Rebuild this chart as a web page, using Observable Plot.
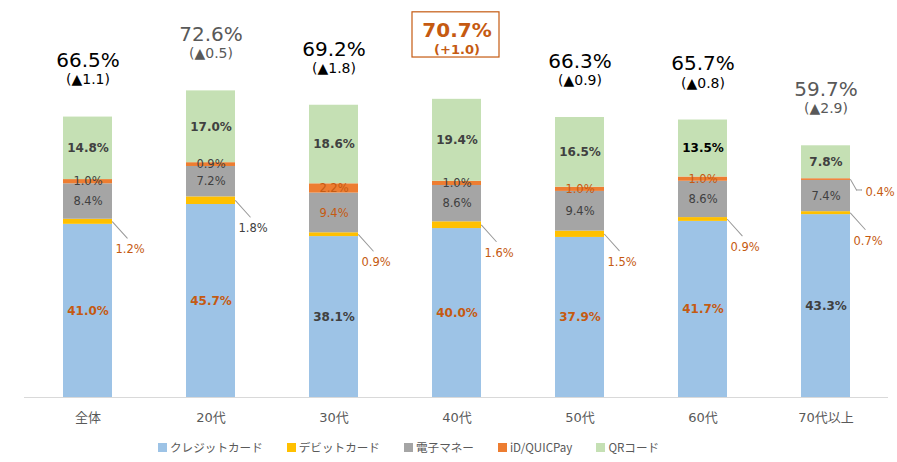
<!DOCTYPE html>
<html><head><meta charset="utf-8">
<script src="https://cdn.jsdelivr.net/npm/d3@7"></script>
<script src="https://cdn.jsdelivr.net/npm/@observablehq/plot@0.6"></script>
<style>
body{margin:0;background:#fff;}
#legend{position:relative;height:30px;display:flex;align-items:center;padding-left:158px;font-family:"Noto Sans CJK JP","Noto Sans",sans-serif;font-size:11.6px;color:#595959;}
.item{display:flex;align-items:center;height:22px;margin-right:24px;}
.sw{width:9px;height:9px;margin-right:3px;}
</style></head><body>
<div id="chart"></div>
<div id="legend"></div>
<script>
const categories = ["全体","20代","30代","40代","50代","60代","70代以上"];
const seriesNames = ["クレジットカード","デビットカード","電子マネー","iD/QUICPay","QRコード"];
const credit = [41.0,45.7,38.1,40.0,37.9,41.7,43.3];
const debit  = [1.2,1.8,0.9,1.6,1.5,0.9,0.7];
const emoney = [8.4,7.2,9.4,8.6,9.4,8.6,7.4];
const idpay  = [1.0,0.9,2.2,1.0,1.0,1.0,0.4];
const qr     = [14.8,17.0,18.6,19.4,16.5,13.5,7.8];
const totals = [66.5,72.6,69.2,70.7,66.3,65.7,59.7];
const deltas = ["▲1.1","▲0.5","▲1.8","+1.0","▲0.9","▲0.8","▲2.9"];

// styles (kept apart from data)
const seriesColors = ["#9DC3E6","#FFC000","#A5A5A5","#ED7D31","#C5E0B4"];
const ORANGE="#C55A11", DARK="#404040", GRAY="#595959", BLACK="#000000";
const creditLabelColor = [ORANGE,ORANGE,DARK,ORANGE,ORANGE,ORANGE,DARK];
const debitLabelColor  = [ORANGE,DARK,ORANGE,ORANGE,ORANGE,ORANGE,ORANGE];
const emoneyLabelColor = [DARK,DARK,ORANGE,DARK,DARK,DARK,DARK];
const idLabelColor     = [DARK,DARK,ORANGE,DARK,ORANGE,ORANGE,ORANGE];
const qrLabelColor     = [DARK,DARK,DARK,DARK,DARK,BLACK,DARK];
const totalColor       = [BLACK,GRAY,BLACK,ORANGE,BLACK,BLACK,GRAY];
const highlight        = [false,false,false,true,false,false,false];
const idOutside        = [false,false,false,false,false,false,true];

const seriesValues = [credit, debit, emoney, idpay, qr];
const labelColors = [creditLabelColor, debitLabelColor, emoneyLabelColor, idLabelColor, qrLabelColor];
const segs = [];
categories.forEach((cat, i) => {
  let base = 0;
  seriesValues.forEach((vals, s) => {
    const v = vals[i];
    segs.push({cat, i, s, series: seriesNames[s], color: seriesColors[s], lc: labelColors[s][i],
      y1: base, y2: base + v, mid: base + v / 2, value: v, text: v.toFixed(1) + "%"});
    base += v;
  });
});
const tots = categories.map((cat, i) => ({cat, i, t: totals[i], text: totals[i].toFixed(1) + "%",
  dtext: "(" + deltas[i] + ")", color: totalColor[i]}));

const halfBar = 24.5;
const FONT = "DejaVu Sans, Noto Sans CJK JP, sans-serif";
const boldIn = segs.filter(d => d.s === 0 || d.s === 4);
const normIn = segs.filter(d => d.s === 2 || (d.s === 3 && !idOutside[d.i]));
const debSegs = segs.filter(d => d.s === 1);
const idOut = segs.filter(d => d.s === 3 && idOutside[d.i]);
const normTots = tots.filter(d => !highlight[d.i]);
const hiTots = tots.filter(d => highlight[d.i]);

const chart = Plot.plot({
  width: 897, height: 432,
  marginLeft: 24, marginRight: 9, marginTop: 0, marginBottom: 35,
  style: {fontFamily: FONT, fontSize: "13px", color: GRAY, background: "#fff"},
  x: {domain: categories, paddingInner: 0.603, paddingOuter: 0.3, tickSize: 0, tickPadding: 15, label: null},
  y: {domain: [0, 94], axis: null},
  color: {type: "identity"},
  marks: [
    Plot.barY(segs, {x: "cat", y1: "y1", y2: "y2", fill: "color"}),
    Plot.ruleY([0], {stroke: "#D9D9D9", strokeWidth: 1.2}),
    Plot.text(boldIn, {x: "cat", y: "mid", text: "text", fill: "lc", fontWeight: "bold", fontSize: 12, fontFamily: FONT}),
    Plot.text(normIn, {x: "cat", y: "mid", text: "text", fill: "lc", fontSize: 11.5, fontFamily: FONT}),
    Plot.vector(debSegs, {x: "cat", y: "mid", length: 22, rotate: 138, anchor: "start", r: 0, stroke: "#999999", strokeWidth: 1, dx: halfBar}),
    Plot.text(debSegs, {x: "cat", y: "mid", text: "text", fill: "lc", fontSize: 11.5, fontFamily: FONT, textAnchor: "start", dx: halfBar + 3, dy: 28}),
    Plot.vector(idOut, {x: "cat", y: "mid", length: 12, rotate: 150, anchor: "start", r: 0, stroke: "#999999", strokeWidth: 1, dx: halfBar}),
    Plot.vector(idOut, {x: "cat", y: "mid", length: 5, rotate: 90, anchor: "start", r: 0, stroke: "#999999", strokeWidth: 1, dx: halfBar + 6, dy: 10.4}),
    Plot.text(idOut, {x: "cat", y: "mid", text: "text", fill: "lc", fontSize: 11.5, fontFamily: FONT, textAnchor: "start", dx: halfBar + 15, dy: 13}),
    Plot.text(normTots, {x: "cat", y: "t", text: "text", fill: "color", fontSize: 20, fontFamily: FONT, dy: -56}),
    Plot.text(normTots, {x: "cat", y: "t", text: "dtext", fill: "color", fontSize: 14, fontFamily: FONT, dy: -37}),
    Plot.barY(hiTots, {x: "cat", y1: d => d.t + 9.8, y2: d => d.t + 20.5, fill: "none", stroke: ORANGE, strokeWidth: 1.2, insetLeft: -20, insetRight: -18}),
    Plot.text(hiTots, {x: "cat", y: "t", text: "text", fill: "color", fontSize: 20, fontWeight: "bold", fontFamily: FONT, dy: -68}),
    Plot.text(hiTots, {x: "cat", y: "t", text: "dtext", fill: "color", fontSize: 13, fontWeight: "bold", fontFamily: FONT, dy: -49})
  ]
});
document.getElementById("chart").appendChild(chart);

const legend = document.getElementById("legend");
seriesNames.forEach((name, s) => {
  const item = document.createElement("div");
  item.className = "item";
  const sw = document.createElement("span");
  sw.className = "sw";
  sw.style.background = seriesColors[s];
  const tx = document.createElement("span");
  tx.textContent = name;
  item.appendChild(sw); item.appendChild(tx);
  legend.appendChild(item);
});
</script></body></html>
